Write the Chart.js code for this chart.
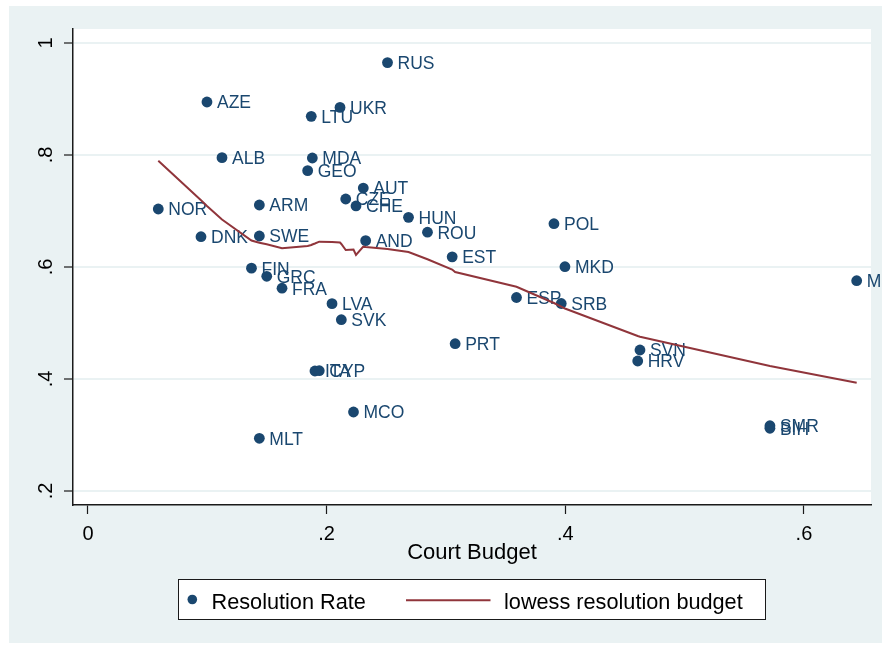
<!DOCTYPE html>
<html>
<head>
<meta charset="utf-8">
<script src="https://cdn.jsdelivr.net/npm/chart.js@4/dist/chart.umd.min.js"></script>
<style>
  html, body { margin: 0; padding: 0; background: #ffffff; }
  canvas { display: block; }
</style>
</head>
<body>
<canvas id="chart" width="882" height="646"></canvas>
<script>
// Country codes with court budget (x) and resolution rate (y)
const countries = ['RUS','AZE','UKR','LTU','ALB','MDA','GEO','AUT','CZE','CHE','NOR','ARM','HUN','ROU','POL','DNK','SWE','AND','EST','MKD','FIN','GRC','FRA','MNE','ESP','SRB','LVA','SVK','PRT','SVN','HRV','ITA','CYP','MCO','MLT','SMR','BIH'];
const courtBudget = [0.251,0.0997,0.2112,0.1871,0.1123,0.188,0.1841,0.2307,0.216,0.2246,0.0589,0.1436,0.2686,0.2845,0.3905,0.0947,0.1436,0.2327,0.3052,0.3997,0.137,0.1498,0.1626,0.6442,0.3591,0.3966,0.2045,0.2123,0.3077,0.4626,0.4607,0.1902,0.1938,0.2225,0.1436,0.5715,0.5715];
const resolutionRate = [0.965,0.8946,0.885,0.869,0.7952,0.7946,0.772,0.741,0.7214,0.709,0.7036,0.7107,0.6887,0.6621,0.6773,0.6541,0.6554,0.647,0.6182,0.6005,0.5979,0.5834,0.5621,0.5755,0.5455,0.5348,0.5345,0.5059,0.463,0.4518,0.4321,0.4143,0.4148,0.3411,0.2941,0.3166,0.312];

// Lowess smooth of resolution rate on budget, one value per distinct budget
const lowessBudget = [0.0589,0.0947,0.0997,0.1123,0.137,0.1436,0.1498,0.1626,0.1841,0.1871,0.188,0.1902,0.1938,0.2045,0.2112,0.2123,0.216,0.2225,0.2246,0.2307,0.2327,0.251,0.2686,0.2845,0.3052,0.3077,0.3591,0.3905,0.3966,0.3997,0.4607,0.4626,0.5715,0.6442];
const lowessResolution = [0.7898,0.7191,0.7089,0.6848,0.6473,0.6434,0.6405,0.6334,0.6375,0.6393,0.6402,0.642,0.6452,0.6446,0.6437,0.6411,0.6304,0.6313,0.6214,0.6363,0.6357,0.6321,0.6268,0.6138,0.5955,0.591,0.5648,0.5357,0.5291,0.5259,0.4768,0.4755,0.4232,0.3934];

// Axis ticks and their labels
const xTickValues = [0, 0.2, 0.4, 0.6];
const xTickLabels = ['0', '.2', '.4', '.6'];
const yTickValues = [0.2, 0.4, 0.6, 0.8, 1];
const yTickLabels = ['.2', '.4', '.6', '.8', '1'];

const seriesNames = ['Resolution Rate', 'lowess resolution budget'];

const NAVY = '#1a476f';
const MAROON = '#90353b';
const PANEL = '#eaf2f3';
const FONT = '"Liberation Sans", Arial, Helvetica, sans-serif';

Chart.defaults.font.family = FONT;
Chart.defaults.color = '#000000';

// Light outer panel with a white plot region
const backdrop = {
  id: 'backdrop',
  beforeDraw(chart) {
    const { ctx, chartArea: a, width, height } = chart;
    ctx.save();
    ctx.fillStyle = '#ffffff';
    ctx.fillRect(0, 0, width, height);
    ctx.fillStyle = PANEL;
    ctx.fillRect(9, 6, width - 9, height - 9);
    ctx.fillStyle = '#ffffff';
    ctx.fillRect(a.left, a.top, a.right - a.left, a.bottom - a.top);
    ctx.restore();
  }
};

// Country code to the right of each marker
const markerLabels = {
  id: 'markerLabels',
  afterDatasetDraw(chart, args) {
    if (args.index !== 0) return;
    const ctx = chart.ctx;
    ctx.save();
    ctx.font = '17.5px ' + FONT;
    ctx.fillStyle = NAVY;
    ctx.textAlign = 'left';
    ctx.textBaseline = 'middle';
    args.meta.data.forEach((pt, i) => {
      ctx.fillText(countries[i], pt.x + 10, pt.y + 1.5);
    });
    ctx.restore();
  }
};

// Boxed legend below the axis title
const boxedLegend = {
  id: 'boxedLegend',
  afterDraw(chart) {
    const ctx = chart.ctx;
    const ds = chart.data.datasets;
    ctx.save();
    ctx.fillStyle = '#ffffff';
    ctx.fillRect(178, 579, 588, 41);
    ctx.strokeStyle = '#1a1a1a';
    ctx.lineWidth = 1;
    ctx.strokeRect(178.5, 579.5, 587, 40);

    ctx.fillStyle = ds[0].backgroundColor;
    ctx.beginPath();
    ctx.arc(192.3, 599.5, 4.8, 0, Math.PI * 2);
    ctx.fill();

    ctx.font = '21.7px ' + FONT;
    ctx.fillStyle = '#000000';
    ctx.textAlign = 'left';
    ctx.textBaseline = 'alphabetic';
    ctx.fillText(ds[0].label, 211.5, 608.5);

    ctx.strokeStyle = ds[1].borderColor;
    ctx.lineWidth = 2;
    ctx.beginPath();
    ctx.moveTo(406, 600.3);
    ctx.lineTo(490.5, 600.3);
    ctx.stroke();

    ctx.fillText(ds[1].label, 504, 608.5);
    ctx.restore();
  }
};

new Chart(document.getElementById('chart'), {
  type: 'scatter',
  data: {
    datasets: [
      {
        label: seriesNames[0],
        data: courtBudget.map((b, i) => ({ x: b, y: resolutionRate[i] })),
        backgroundColor: NAVY,
        borderColor: NAVY,
        borderWidth: 0,
        pointRadius: 5.4,
        order: 1
      },
      {
        label: seriesNames[1],
        data: lowessBudget.map((b, i) => ({ x: b, y: lowessResolution[i] })),
        showLine: true,
        borderColor: MAROON,
        backgroundColor: MAROON,
        borderWidth: 2,
        pointRadius: 0,
        tension: 0,
        order: 0
      }
    ]
  },
  options: {
    responsive: false,
    devicePixelRatio: 1,
    animation: false,
    events: [],
    layout: { padding: { top: 29, right: 11, bottom: 0, left: 0 } },
    plugins: {
      legend: { display: false },
      tooltip: { enabled: false }
    },
    scales: {
      x: {
        type: 'linear',
        min: -0.01257,
        max: 0.6562,
        afterBuildTicks: (s) => { s.ticks = xTickValues.map((v) => ({ value: v })); },
        afterFit: (s) => { s.height = 141; },
        grid: { drawOnChartArea: false, drawTicks: true, tickLength: 9, tickColor: '#1a1a1a', tickWidth: 1.2 },
        border: { color: '#1a1a1a', width: 1.5 },
        ticks: {
          minRotation: 0, maxRotation: 0, autoSkip: false, padding: 8,
          color: '#000000', font: { size: 20 },
          callback: (v, i) => xTickLabels[i]
        },
        title: {
          display: true, text: 'Court Budget', color: '#000000',
          font: { size: 22 }, padding: { top: 0, bottom: 79.5 }
        }
      },
      y: {
        type: 'linear',
        min: 0.175,
        max: 1.025,
        afterBuildTicks: (s) => { s.ticks = yTickValues.map((v) => ({ value: v })); },
        afterFit: (s) => { s.width = 73; },
        grid: { color: PANEL, lineWidth: 2, drawTicks: true, tickLength: 9, tickColor: '#1a1a1a', tickWidth: 1.2 },
        border: { color: '#1a1a1a', width: 1.5 },
        ticks: {
          minRotation: 90, maxRotation: 90, autoSkip: false, crossAlign: 'center', padding: 9,
          color: '#000000', font: { size: 20 },
          callback: (v, i) => yTickLabels[i]
        }
      }
    }
  },
  plugins: [backdrop, markerLabels, boxedLegend]
});
</script>
</body>
</html>
